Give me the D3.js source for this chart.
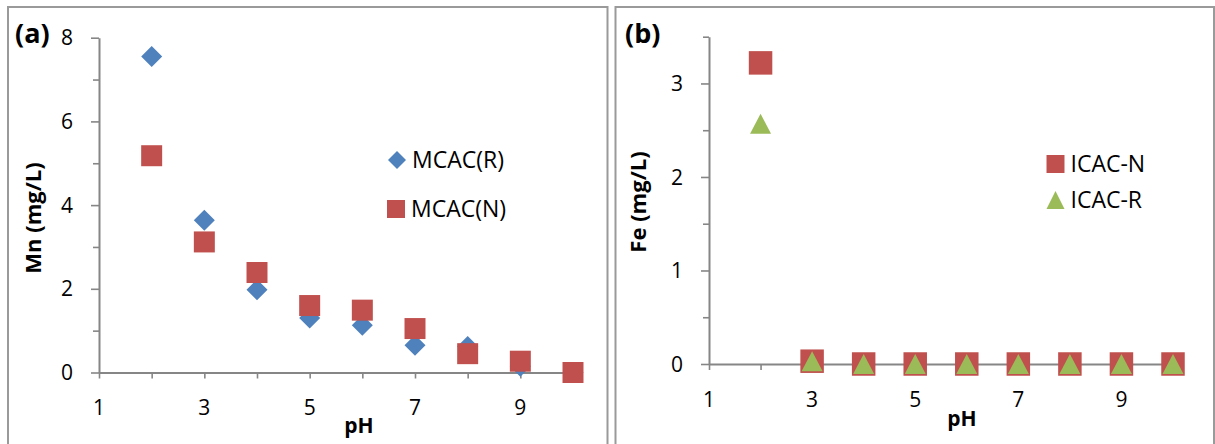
<!DOCTYPE html>
<html>
<head>
<meta charset="utf-8">
<script src="https://cdn.jsdelivr.net/npm/d3@7"></script>
<style>
  html, body { margin: 0; padding: 0; background: #fff; }
  svg { display: block; font-family: "Open Sans", "DejaVu Sans", sans-serif; }
</style>
</head>
<body>
<svg id="chart" width="1215" height="444"></svg>
<script>
// pH values shared by both panels
const phValues = [2, 3, 4, 5, 6, 7, 8, 9, 10];

// (a) Mn residual concentration (mg/L)
const mcacR = [7.55, 3.64, 1.98, 1.30, 1.13, 0.65, 0.62, 0.15, 0];
const mcacN = [5.18, 3.12, 2.39, 1.60, 1.49, 1.05, 0.45, 0.27, 0];

// (b) Fe residual concentration (mg/L)
const icacN = [3.22, 0.03, 0, 0, 0, 0, 0, 0, 0];
const icacR = [2.57, 0.03, 0, 0, 0, 0, 0, 0, 0];

// axis ticks
const xTicks = [1, 2, 3, 4, 5, 6, 7, 8, 9, 10];
const xTickLabels = [1, 3, 5, 7, 9];
const yTicksA = [0, 1, 2, 3, 4, 5, 6, 7, 8];
const yTickLabelsA = [0, 2, 4, 6, 8];
const yTicksB = [0, 0.5, 1, 1.5, 2, 2.5, 3, 3.5];
const yTickLabelsB = [0, 1, 2, 3];

const BLUE = "#4F81BD", RED = "#C0504D", GREEN = "#9BBB59";
const AXIS = "#868686", FRAME = "#9a9a9a";

const svg = d3.select("#chart");

// marker path builders, centred on (0,0)
function diamondPath(w, h) {
  return `M0,${-h / 2}L${w / 2},0L0,${h / 2}L${-w / 2},0Z`;
}
function squarePath(s) {
  return `M${-s / 2},${-s / 2}h${s}v${s}h${-s}Z`;
}
function trianglePath(w, h) {
  return `M0,${-h / 2}L${w / 2},${h / 2}L${-w / 2},${h / 2}Z`;
}

function drawPanel(cfg) {
  const g = svg.append("g");

  // panel frame (open at the bottom edge of the page)
  g.append("path")
    .attr("d", `M${cfg.frame[0]},450V${cfg.frame[1]}H${cfg.frame[2]}V450`)
    .attr("fill", "none").attr("stroke", FRAME).attr("stroke-width", 2);

  const x = d3.scaleLinear().domain([1, 10]).range(cfg.xRange);
  const y = d3.scaleLinear().domain(cfg.yDomain).range(cfg.yRange);

  // y axis
  const yAxis = d3.axisLeft(y)
    .tickValues(cfg.yTicks)
    .tickSizeInner(0).tickSizeOuter(0)
    .tickFormat("");
  const ya = g.append("g").attr("transform", `translate(${cfg.xRange[0]},0)`).call(yAxis);
  ya.select(".domain").attr("stroke", AXIS).attr("stroke-width", 2);
  ya.selectAll(".tick line")
    .attr("stroke", AXIS).attr("stroke-width", 1.6)
    .attr("x2", d => (cfg.yTickLabels.includes(d) ? -8 : -6));

  g.selectAll("text.ylab").data(cfg.yTickLabels).enter().append("text")
    .attr("x", cfg.xRange[0] - 26).attr("y", d => y(d)).attr("dy", "0.36em")
    .attr("text-anchor", "end").attr("font-size", 21).attr("fill", "#000")
    .text(d => d);

  // x axis
  const xAxis = d3.axisBottom(x)
    .tickValues(xTicks)
    .tickSizeInner(6).tickSizeOuter(0)
    .tickFormat("");
  const xa = g.append("g").attr("transform", `translate(0,${y(0)})`).call(xAxis);
  xa.select(".domain").attr("stroke", AXIS).attr("stroke-width", 2);
  xa.selectAll(".tick line").attr("stroke", AXIS).attr("stroke-width", 1.6);

  g.selectAll("text.xlab").data(xTickLabels).enter().append("text")
    .attr("x", d => x(d)).attr("y", y(0) + 35).attr("dy", "0.36em")
    .attr("text-anchor", "middle").attr("font-size", 21).attr("fill", "#000")
    .text(d => d);

  // axis titles
  g.append("text")
    .attr("x", cfg.xTitle[0]).attr("y", cfg.xTitle[1])
    .attr("text-anchor", "middle").attr("font-size", 21).attr("font-weight", "bold")
    .text("pH");
  g.append("text")
    .attr("transform", `translate(${cfg.yTitle[0]},${cfg.yTitle[1]}) rotate(-90)`)
    .attr("text-anchor", "middle").attr("dy", "0.36em")
    .attr("font-size", 22).attr("font-weight", "bold")
    .text(cfg.yTitleText);

  // panel tag
  g.append("text")
    .attr("x", cfg.tag[0]).attr("y", cfg.tag[1])
    .attr("font-size", 27).attr("font-weight", "bold")
    .text(cfg.tagText);

  // series markers
  cfg.series.forEach(s => {
    g.append("g").selectAll("path").data(phValues.map((p, i) => [p, s.values[i]]))
      .enter().append("path")
      .attr("transform", d => `translate(${x(d[0])},${y(d[1])})`)
      .attr("d", s.shape)
      .attr("fill", s.color);
  });

  // legend
  cfg.legend.forEach(l => {
    g.append("path")
      .attr("transform", `translate(${l.pos[0]},${l.pos[1]})`)
      .attr("d", l.shape).attr("fill", l.color);
    g.append("text")
      .attr("x", l.pos[0] + 15).attr("y", l.pos[1]).attr("dy", "0.36em")
      .attr("font-size", 23).text(l.label);
  });
}

drawPanel({
  frame: [8, 7, 607.5],
  xRange: [99, 573],
  yDomain: [0, 8],
  yRange: [372.5, 37.7],
  yTicks: yTicksA,
  yTickLabels: yTickLabelsA,
  xTitle: [359, 433],
  yTitle: [33, 218],
  yTitleText: "Mn (mg/L)",
  tag: [15, 43],
  tagText: "(a)",
  series: [
    { values: mcacR, color: BLUE, shape: diamondPath(21, 21) },
    { values: mcacN, color: RED, shape: squarePath(21) }
  ],
  legend: [
    { pos: [397, 160], shape: diamondPath(18, 18), color: BLUE, label: "MCAC(R)" },
    { pos: [396, 209], shape: squarePath(18), color: RED, label: "MCAC(N)" }
  ]
});

drawPanel({
  frame: [615.5, 7, 1214],
  xRange: [709, 1173],
  yDomain: [0, 3.5],
  yRange: [364, 36.7],
  yTicks: yTicksB,
  yTickLabels: yTickLabelsB,
  xTitle: [962, 426],
  yTitle: [638, 202],
  yTitleText: "Fe (mg/L)",
  tag: [625, 43],
  tagText: "(b)",
  series: [
    { values: icacN, color: RED, shape: squarePath(23.5) },
    { values: icacR, color: GREEN, shape: trianglePath(21, 20) }
  ],
  legend: [
    { pos: [1055.5, 164], shape: squarePath(18), color: RED, label: "ICAC-N" },
    { pos: [1055.5, 200], shape: trianglePath(18, 18), color: GREEN, label: "ICAC-R" }
  ]
});
</script>
</body>
</html>
